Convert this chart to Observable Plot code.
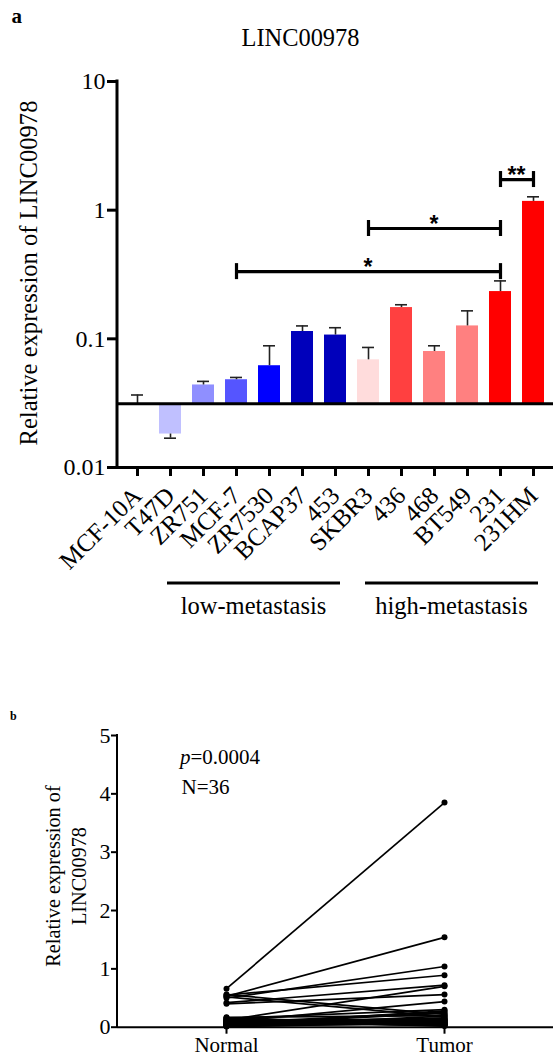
<!DOCTYPE html>
<html><head><meta charset="utf-8">
<script src="https://cdn.jsdelivr.net/npm/d3@7"></script>
<script src="https://cdn.jsdelivr.net/npm/@observablehq/plot@0.6"></script>
<style>
body{margin:0;background:#fff;}
#wrap{position:relative;width:553px;height:1057px;overflow:hidden;font-family:"Liberation Serif","Times New Roman",serif;color:#000;}
.t{position:absolute;white-space:nowrap;line-height:1;}
#wrap svg{position:absolute;left:0;overflow:visible;font-family:"Liberation Serif","Times New Roman",serif;}
#wrap svg text{font-family:"Liberation Serif","Times New Roman",serif;}
#wrap svg text.star{font-family:"Liberation Sans",Arial,sans-serif;}
</style></head><body><div id="wrap"></div>
<script>
// ---------- Panel a data ----------
const cells = ["MCF-10A","T47D","ZR751","MCF-7","ZR7530","BCAP37","453","SKBR3","436","468","BT549","231","231HM"];
const means = [0.0313,0.0182,0.0438,0.0481,0.0618,0.114,0.107,0.0687,0.175,0.0797,0.126,0.233,1.17];
const errs  = [0.0366,0.0169,0.0467,0.0501,0.0883,0.126,0.122,0.0857,0.184,0.0883,0.165,0.282,1.27];
const barColors = ["#c0c0ff","#c0c0ff","#8f8fff","#5555ff","#0000ff","#0000bb","#0000bb","#ffdcdc","#ff4040","#ff8080","#ff8080","#ff0000","#ff0000"];
const baseline = 0.0313;
const yTicksA = [0.01,0.1,1,10];
const bracketFrom = ["MCF-7","SKBR3","231"];
const bracketTo = ["231","231","231HM"];
const bracketY = [0.333,0.72,1.73];
const bracketLabel = ["*","*","**"];
const groupNames = ["low-metastasis","high-metastasis"];
const groupFirst = ["T47D","SKBR3"];
const groupLast = ["453","231HM"];

// ---------- Panel b data ----------
const conditions = ["Normal","Tumor"];
const normalVals = [0.66,0.53,0.50,0.55,0.42,0.40,0.56,0.52,0.12,0.09,0.15,0.07,0.17,0.05,0.10,0.13,0.04,0.08,0.03,0.11,0.06,0.02,0.14,0.05,0.09,0.03,0.16,0.04,0.07,0.02,0.12,0.06,0.08,0.01,0.10,0.03];
const tumorVals  = [3.85,1.54,1.04,0.89,0.72,0.56,0.22,0.18,0.70,0.44,0.30,0.26,0.20,0.24,0.15,0.12,0.28,0.10,0.16,0.08,0.13,0.19,0.06,0.11,0.05,0.14,0.04,0.09,0.03,0.07,0.02,0.12,0.05,0.08,0.03,0.06];
const yTicksB = [0,1,2,3,4,5];

const wrap = document.getElementById("wrap");
function addText(txt, x, baseline, size, opts = {}) {
  const d = document.createElement("div");
  d.className = "t";
  d.innerHTML = txt;
  d.style.fontSize = size + "px";
  d.style.top = (baseline - 0.8375 * size) + "px";
  d.style.left = x + "px";
  if (opts.weight) d.style.fontWeight = opts.weight;
  if (opts.center) d.style.transform = "translateX(-50%)";
  wrap.appendChild(d);
  return d;
}
function addRotated(html, cx, cy, size, lh) {
  const d = document.createElement("div");
  d.className = "t";
  d.innerHTML = html;
  d.style.fontSize = size + "px";
  d.style.lineHeight = (lh || size) + "px";
  d.style.textAlign = "center";
  d.style.left = cx + "px";
  d.style.top = cy + "px";
  d.style.transform = "translate(-50%,-50%) rotate(-90deg)";
  wrap.appendChild(d);
}

// ---------- Panel a ----------
const bars = cells.map((c, i) => ({cell: c, mean: means[i], err: errs[i], color: barColors[i]}));
const brackets = bracketFrom.map((f, i) => ({from: f, to: bracketTo[i], y: bracketY[i], label: bracketLabel[i]}));
const W = 553, HA = 640, topA = 81, botA = 467, leftA = 117;

const plotA = Plot.plot({
  width: W, height: HA,
  marginTop: topA, marginBottom: HA - botA, marginLeft: leftA, marginRight: 0,
  style: {fontFamily: "Liberation Serif", fontSize: "23px", color: "#000", background: "transparent", overflow: "visible"},
  x: {type: "band", domain: cells, paddingInner: 0.33, paddingOuter: 0.165, label: null},
  y: {type: "log", domain: [0.01, 10], label: null},
  color: {type: "identity"},
  marks: [
    Plot.barY(bars, {x: "cell", y1: () => baseline, y2: "mean", fill: "color"}),
    Plot.ruleX(bars, {x: "cell", y1: "mean", y2: "err", stroke: "#222", strokeWidth: 1.6}),
    Plot.tickY(bars, {x: "cell", y: "err", stroke: "#222", strokeWidth: 1.6, insetLeft: 5, insetRight: 5}),
    Plot.ruleY([baseline], {stroke: "#000", strokeWidth: 3}),
    Plot.ruleY([0.01], {stroke: "#000", strokeWidth: 3}),
    Plot.link(brackets, {x1: "from", x2: "to", y1: "y", y2: "y", stroke: "#000", strokeWidth: 3.2}),
    Plot.ruleX(brackets, {x: "from", y1: "y", y2: "y", insetTop: -8, insetBottom: -8, stroke: "#000", strokeWidth: 3.2}),
    Plot.ruleX(brackets, {x: "to", y1: "y", y2: "y", insetTop: -8, insetBottom: -8, stroke: "#000", strokeWidth: 3.2}),
    Plot.axisY({ticks: yTicksA, tickFormat: d => String(d), tickSize: 10, tickPadding: 2, strokeWidth: 3, fontSize: 24, label: null}),
    Plot.axisX({tickRotate: -45, tickSize: 9, tickPadding: 15, strokeWidth: 3, fontSize: 25, label: null})
  ]
});
plotA.style.top = "0px";
wrap.appendChild(plotA);

{
  const svg = d3.select(plotA);
  const xs = plotA.scale("x"), ys = plotA.scale("y");
  const bw = xs.bandwidth;
  const cx = c => xs.apply(c) + bw / 2;
  svg.append("line").attr("x1", leftA).attr("x2", leftA)
    .attr("y1", ys.apply(yTicksA[yTicksA.length - 1]) - 1.5).attr("y2", ys.apply(yTicksA[0]) + 1.5)
    .attr("stroke", "#000").attr("stroke-width", 3);
  svg.append("g").selectAll("text").data(brackets).join("text")
    .attr("class", "star")
    .attr("x", b => (cx(b.from) + cx(b.to)) / 2)
    .attr("y", b => ys.apply(b.y) + 4)
    .attr("text-anchor", "middle")
    .attr("font-size", 23).attr("font-weight", "bold")
    .text(b => b.label);
  const groups = groupNames.map((g, i) => ({name: g, x1: cx(groupFirst[i]) - 3, x2: cx(groupLast[i]) + 5}));
  const g = svg.append("g");
  g.selectAll("line").data(groups).join("line")
    .attr("x1", d => d.x1).attr("x2", d => d.x2)
    .attr("y1", botA + 116).attr("y2", botA + 116)
    .attr("stroke", "#000").attr("stroke-width", 3);
  g.selectAll("text").data(groups).join("text")
    .attr("x", d => (d.x1 + d.x2) / 2).attr("y", botA + 147)
    .attr("text-anchor", "middle").attr("font-size", 24.5)
    .text(d => d.name);
}

addText("a", 11.5, 23.5, 21, {weight: "bold"});
addText("LINC00978", 300.5, 46.5, 24.4, {center: true});
addRotated("Relative expression of LINC00978", 29, 272.5, 24.6);

// ---------- Panel b ----------
const pairs = normalVals.map((n, i) => ({normal: n, tumor: tumorVals[i]}));
const points = [
  ...normalVals.map(v => ({cond: conditions[0], v})),
  ...tumorVals.map(v => ({cond: conditions[1], v}))
];
const topB = 690, HB = 367, mTopB = 45, y0B = 1026.7 - topB;
const plotB = Plot.plot({
  width: W, height: HB,
  marginTop: mTopB, marginBottom: HB - y0B, marginLeft: leftA, marginRight: 0,
  style: {fontFamily: "Liberation Serif", fontSize: "21px", color: "#000", background: "transparent", overflow: "visible"},
  x: {type: "point", domain: conditions, padding: 0.5, label: null},
  y: {domain: [0, 5], label: null},
  marks: [
    Plot.link(pairs, {x1: () => conditions[0], x2: () => conditions[1], y1: "normal", y2: "tumor", stroke: "#000", strokeWidth: 1.7}),
    Plot.dot(points, {x: "cond", y: "v", r: 3, fill: "#000"}),
    Plot.ruleY([0], {stroke: "#000", strokeWidth: 2}),
    Plot.axisY({ticks: yTicksB, tickFormat: d => String(d), tickSize: 6, tickPadding: 1, strokeWidth: 2, fontSize: 22, label: null}),
    Plot.axisX({tickSize: 7, tickPadding: 3, strokeWidth: 2, fontSize: 21, label: null})
  ]
});
plotB.style.top = topB + "px";
wrap.appendChild(plotB);
{
  const svg = d3.select(plotB);
  const ys = plotB.scale("y");
  svg.append("line").attr("x1", leftA).attr("x2", leftA)
    .attr("y1", ys.apply(5) - 1).attr("y2", ys.apply(0) + 1)
    .attr("stroke", "#000").attr("stroke-width", 2);
}
addText("b", 10, 720, 12, {weight: "bold"});
addText("<i>p</i>=0.0004", 180, 765, 21);
addText("N=36", 181.5, 795, 21);
addRotated("Relative expression of<br>LINC00978", 66.4, 876, 20.3, 26);
</script>
</body></html>
